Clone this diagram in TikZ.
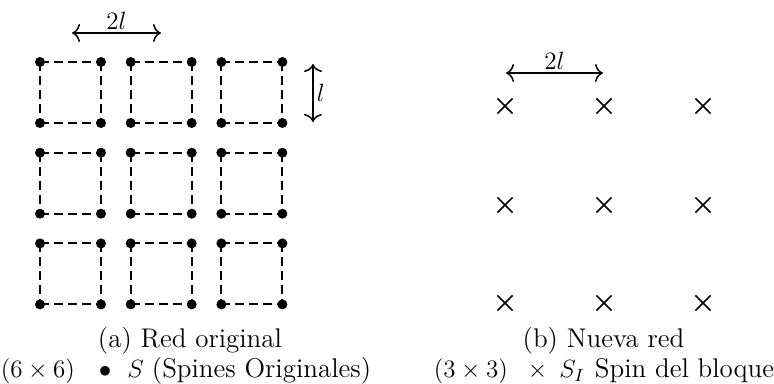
\RequirePackage{fix-cm}
\documentclass[tikz,border=0pt]{standalone}
\usetikzlibrary{arrows.meta,shapes.misc}
\newcommand\capmath[1]{{\fontsize{12.5}{15}\selectfont$#1$}}
\begin{document}
\begin{tikzpicture}[x=0.5pt,y=-0.5pt,
  dotnode/.style={circle,fill=black,inner sep=0pt,minimum size=5pt},
  dashedge/.style={line width=1pt,dash pattern=on 4.5pt off 2.5pt},
  spinx/.style={cross out,draw=black,line width=0.75pt,inner sep=0pt,minimum size=6.8pt},
  dimarrow/.style={{To[length=4pt,width=9pt]}-{To[length=4pt,width=9pt]},line width=0.75pt},
  captext/.style={font=\fontsize{13.5}{16}\selectfont,inner sep=0pt},
  lbl/.style={font=\fontsize{12.5}{14}\selectfont,inner sep=1.5pt}]
\useasboundingbox (0,0) rectangle (774,384);
% left lattice: 3x3 blocks of 2x2 spins
\foreach \i in {0,1,2}{
  \foreach \j in {0,1,2}{
    \pgfmathsetmacro{\xa}{40+90.7*\i}
    \pgfmathsetmacro{\xb}{\xa+61}
    \pgfmathsetmacro{\ya}{62+90.7*\j}
    \pgfmathsetmacro{\yb}{\ya+61}
    \node[dotnode] (d-\i-\j-tl) at (\xa,\ya) {};
    \node[dotnode] (d-\i-\j-tr) at (\xb,\ya) {};
    \node[dotnode] (d-\i-\j-bl) at (\xa,\yb) {};
    \node[dotnode] (d-\i-\j-br) at (\xb,\yb) {};
    \draw[dashedge] (d-\i-\j-tl.center) -- (d-\i-\j-tr.center);
    \draw[dashedge] (d-\i-\j-tl.center) -- (d-\i-\j-bl.center);
    \draw[dashedge] (d-\i-\j-bl.center) -- (d-\i-\j-br.center);
    \draw[dashedge] (d-\i-\j-tr.center) -- (d-\i-\j-br.center);
  }
}
% dimension arrows left
\coordinate (hA1) at (72,33);
\coordinate (hA2) at (161,33);
\draw[dimarrow] (hA1) -- node[lbl,above] (lab2lA) {$2l$} (hA2);
\coordinate (vA1) at (313,64);
\coordinate (vA2) at (313,122);
\draw[dimarrow] (vA1) -- node[lbl,right] (labl) {$l$} (vA2);
% right lattice
\foreach \i/\x in {0/505,1/604,2/703}{
  \foreach \j/\y in {0/106,1/205,2/303}{
    \node[spinx] (x-\i-\j) at (\x,\y) {};
  }
}
\coordinate (hB1) at (506,73);
\coordinate (hB2) at (603,73);
\draw[dimarrow] (hB1) -- node[lbl,above] (lab2lB) {$2l$} (hB2);
% captions
\node[captext] (capA1) at (190,341) {(a) Red original};
\node[captext] (capA2) at (186,371) {\capmath{(6\times6)}\hspace{12pt}\capmath{\bullet}\hspace{8pt}\capmath{S}\hspace{4pt}(Spines Originales)};
\node[captext] (capB1) at (603.5,341) {(b) Nueva red};
\node[captext] (capB2) at (604,371) {\capmath{(3\times3)}\hspace{10pt}\capmath{\times}\hspace{6pt}\capmath{S_I}\hspace{5pt}Spin del bloque};
\end{tikzpicture}
\end{document}
